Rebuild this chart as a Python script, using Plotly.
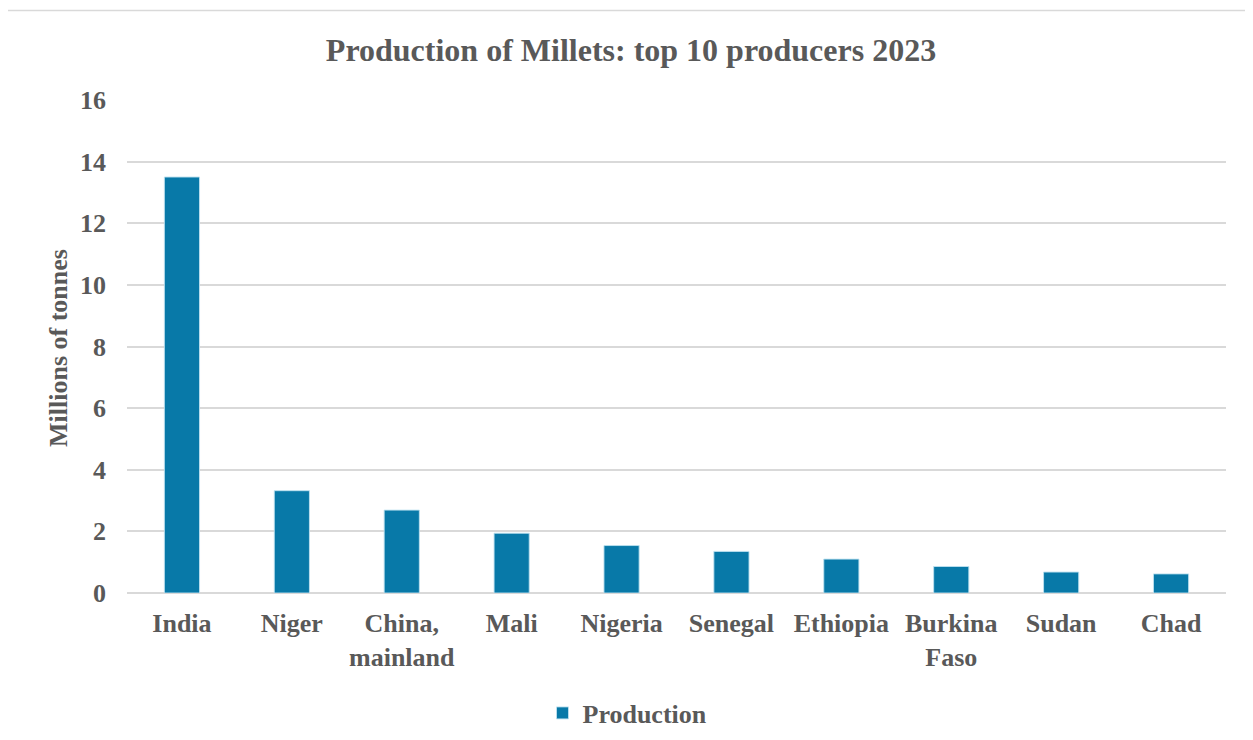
import plotly.graph_objects as go

countries = ["India", "Niger", "China,<br>mainland", "Mali", "Nigeria", "Senegal",
             "Ethiopia", "Burkina<br>Faso", "Sudan", "Chad"]
production = [13.5, 3.32, 2.69, 1.94, 1.54, 1.35, 1.10, 0.86, 0.68, 0.62]
y_ticks = [0, 2, 4, 6, 8, 10, 12, 14, 16]

W, H = 1253, 740
O = 8  # page body margin offset
# target page coords of plot area
PL, PR, PT, PB = 127, 1226, 100, 593
L, T = PL - O, PT - O
R, B = W - (PR - O), H - (PB - O)
pw, ph = W - L - R, H - T - B

def px_x(x):
    return (x - O - L) / pw

def px_y(y):
    return (H - B - (y - O)) / ph

font_fam = "Liberation Serif, Times New Roman, serif"
grey = "#595959"

fig = go.Figure()
fig.add_trace(go.Bar(
    x=countries, y=production, name="Production",
    marker=dict(color="#0879A8", line=dict(color="rgba(190,225,240,0.9)", width=1)),
    showlegend=True,
))

fig.update_layout(
    width=W, height=H,
    margin=dict(l=L, r=R, t=T, b=B),
    paper_bgcolor="white", plot_bgcolor="white",
    font=dict(family=font_fam, size=26, color=grey),
    bargap=0.68,
    title=dict(text="<b>Production of Millets: top 10 producers 2023</b>",
               x=(631 - O) / W, xanchor="center", y=1 - (50 - O) / H, yanchor="middle",
               font=dict(size=32, color=grey, family=font_fam)),
    showlegend=True,
    legend=dict(orientation="h", x=0.5 - 49 / pw, xanchor="center", xref="paper",
                y=px_y(713), yanchor="middle",
                font=dict(size=26, color=grey, family=font_fam, weight="bold"),
                itemwidth=30),
    xaxis=dict(tickfont=dict(size=26, color=grey, family=font_fam, weight="bold"),
               showgrid=False, showline=False, ticks="", ticklabelstandoff=12),
    yaxis=dict(range=[0, 16], tickvals=y_ticks, showgrid=True, gridcolor="#D9D9D9",
               gridwidth=1.5, zeroline=True, zerolinecolor="#D9D9D9", zerolinewidth=1.5,
               tickfont=dict(size=26, color=grey, family=font_fam, weight="bold"),
               ticks="", ticklabelstandoff=20, showline=False),
)

fig.add_annotation(text="<b>Millions of tonnes</b>", textangle=-90,
                   xref="paper", yref="paper", x=px_x(58), y=px_y(348),
                   xanchor="center", yanchor="middle", showarrow=False,
                   font=dict(size=26, color=grey, family=font_fam))

fig.add_shape(type="rect", xref="paper", yref="paper",
              x0=px_x(5.5), x1=px_x(1275), y0=px_y(10.5), y1=px_y(770),
              line=dict(color="#D9D9D9", width=1.5), fillcolor="rgba(0,0,0,0)", layer="below")

fig.write_html("out.html")
